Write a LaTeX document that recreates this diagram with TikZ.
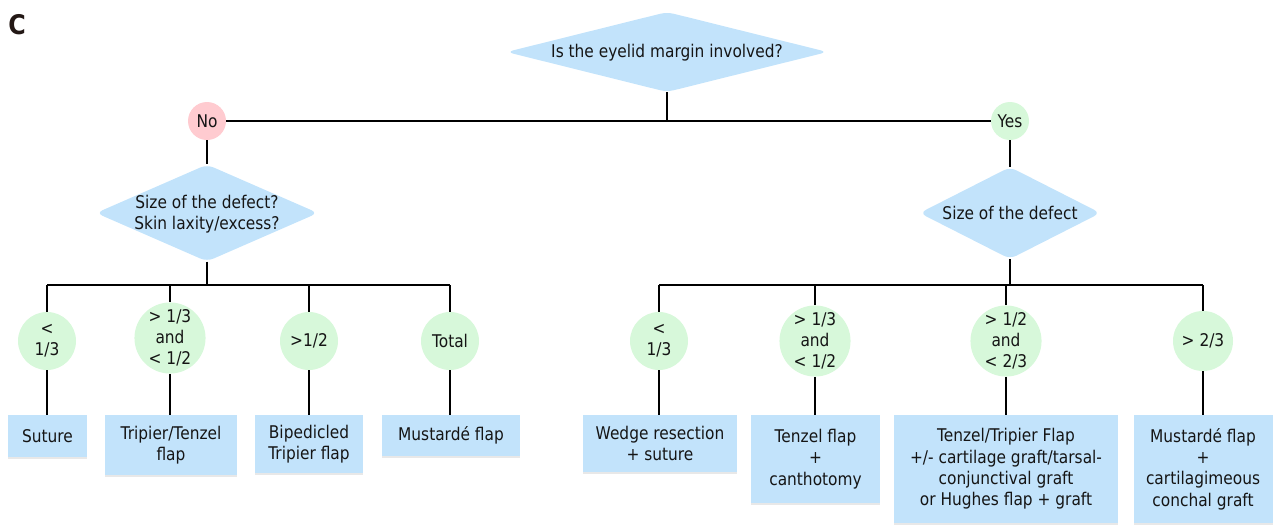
\documentclass[tikz,border=0pt]{standalone}
\usepackage{fontspec}
\setmainfont[FakeStretch=0.88]{DejaVu Sans}
\usetikzlibrary{shapes.geometric,shadows}
\definecolor{dblue}{HTML}{C2E3FB}
\definecolor{cgreen}{HTML}{D7F8DA}
\definecolor{cpink}{HTML}{FFCBD0}
\definecolor{tcol}{HTML}{151515}
\definecolor{ccol}{HTML}{231815}
\begin{document}
\begin{tikzpicture}[x=1pt,y=-1pt,
  txt/.style={font=\fontsize{17.5}{21.3}\selectfont, text=tcol, align=center, inner sep=0pt},
  dia/.style={diamond, fill=dblue, draw=none, inner sep=0pt, rounded corners=7pt},
  circ/.style={circle, txt, draw=none, inner sep=0pt},
  res/.style={rectangle, fill=dblue, txt, draw=none,
    drop shadow={shadow xshift=0pt, shadow yshift=-2pt, opacity=0.18, fill=gray}},
  conn/.style={draw=black, line width=1.8pt}
]
\useasboundingbox (0,0) rectangle (1276,528);
\node[font=\fontsize{27}{27}\selectfont\bfseries, text=ccol, inner sep=0pt] (lab) at (17,25) {C};

% top question
\node[dia, minimum width=321, minimum height=80] (q1) at (667,52) {};
\node[txt] (q1t) at (667,53) {Is the eyelid margin involved?};

\node[circ, fill=cpink, minimum size=38] (no) at (207,121) {No};
\node[circ, fill=cgreen, minimum size=38] (yes) at (1010,121) {Yes};

% second level
\node[dia, minimum width=222, minimum height=97] (dl) at (207,213) {};
\node[txt] (dlt) at (207,214) {Size of the defect?\\Skin laxity/excess?};
\node[dia, minimum width=181, minimum height=92] (dr) at (1010,213) {};
\node[txt] (drt) at (1010,213) {Size of the defect};

% left circles
\node[circ, fill=cgreen, minimum size=58] (l1) at (47,341) {<\\1/3};
\node[circ, fill=cgreen, minimum size=64] (l2) at (170,338) {> 1/3\\and\\< 1/2};
\node[circ, fill=cgreen, minimum size=58] (l3) at (309,341) {>1/2};
\node[circ, fill=cgreen, minimum size=58] (l4) at (450,341) {Total};

% right circles
\node[circ, fill=cgreen, minimum size=58] (r1) at (659,341) {<\\1/3};
\node[circ, fill=cgreen, minimum size=64] (r2) at (815,341) {> 1/3\\and\\< 1/2};
\node[circ, fill=cgreen, minimum size=64] (r3) at (1006,341) {> 1/2\\and\\< 2/3};
\node[circ, fill=cgreen, minimum size=60] (r4) at (1203,341) {> 2/3};

% left result boxes
\node[res, minimum width=79, minimum height=42] (bl1) at (47.5,436) {Suture};
\node[res, minimum width=132, minimum height=60] (bl2) at (171,445) {Tripier/Tenzel\\flap};
\node[res, minimum width=108, minimum height=58] (bl3) at (309,444) {Bipedicled\\Tripier flap};
\node[res, minimum width=138, minimum height=41] (bl4) at (451,435.5) {Mustardé flap};

% right result boxes
\node[res, minimum width=154, minimum height=57] (br1) at (660,443.5) {Wedge resection\\+ suture};
\node[res, minimum width=129, minimum height=88] (br2) at (815.5,459) {Tenzel flap\\+\\canthotomy};
\node[res, minimum width=224, minimum height=108] (br3) at (1006,469) {Tenzel/Tripier Flap\\+/- cartilage graft/tarsal-\\conjunctival graft\\or Hughes flap + graft};
\node[res, minimum width=139, minimum height=108] (br4) at (1203,469) {Mustardé flap\\+\\cartilagimeous\\conchal graft};

% connectors: top
\coordinate (tb) at (667,121);
\draw[conn] (q1.south) -- (tb);
\draw[conn] (no.east) -- (yes.west);
\draw[conn] (no.south) -- (dl.north);
\draw[conn] (yes.south) -- (dr.north);

% left branch
\coordinate (lb) at (207,285);
\draw[conn] (dl.south) -- (lb);
\draw[conn] (l1.north |- lb) -- (l4.north |- lb);
\foreach \c in {l1,l2,l3,l4} {\draw[conn] (\c.north |- lb) -- (\c.north);}
\draw[conn] (l1.south) -- (bl1.north -| l1.south);
\draw[conn] (l2.south) -- (bl2.north -| l2.south);
\draw[conn] (l3.south) -- (bl3.north -| l3.south);
\draw[conn] (l4.south) -- (bl4.north -| l4.south);

% right branch
\coordinate (rb) at (1010,285);
\draw[conn] (dr.south) -- (rb);
\draw[conn] (r1.north |- rb) -- (r4.north |- rb);
\foreach \c in {r1,r2,r3,r4} {\draw[conn] (\c.north |- rb) -- (\c.north);}
\draw[conn] (r1.south) -- (br1.north -| r1.south);
\draw[conn] (r2.south) -- (br2.north -| r2.south);
\draw[conn] (r3.south) -- (br3.north -| r3.south);
\draw[conn] (r4.south) -- (br4.north -| r4.south);
\end{tikzpicture}
\end{document}
